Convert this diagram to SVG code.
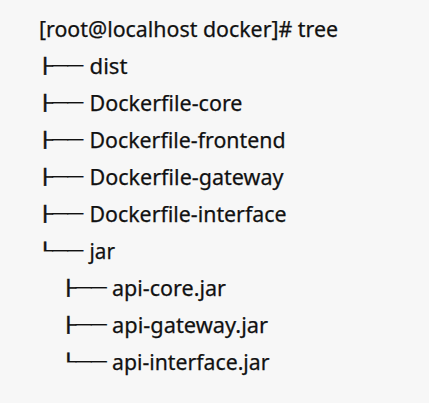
<svg xmlns="http://www.w3.org/2000/svg" width="429" height="403" viewBox="0 0 429 403">
<style>
.t{font-family:"Noto Sans","Liberation Sans",sans-serif;font-size:21.5px;fill:#111;stroke:#111;stroke-width:0.25px}
.b{font-family:"DejaVu Sans Mono",monospace;font-size:15px;fill:#111;stroke:#111;stroke-width:0.3px}
</style>
<rect width="429" height="403" fill="#f7f7f7"/>
<g id="root"><text class="t" x="39" y="36.5" textLength="299" lengthAdjust="spacingAndGlyphs">[root@localhost docker]# tree</text></g>
<g id="connectors">
<text class="b" x="37.4" y="70.7" textLength="45.6" lengthAdjust="spacingAndGlyphs">├──</text>
<text class="b" x="37.4" y="107.7" textLength="45.6" lengthAdjust="spacingAndGlyphs">├──</text>
<text class="b" x="37.4" y="144.7" textLength="45.6" lengthAdjust="spacingAndGlyphs">├──</text>
<text class="b" x="37.4" y="181.7" textLength="45.6" lengthAdjust="spacingAndGlyphs">├──</text>
<text class="b" x="37.4" y="218.7" textLength="45.6" lengthAdjust="spacingAndGlyphs">├──</text>
<text class="b" x="37.4" y="255.7" textLength="45.6" lengthAdjust="spacingAndGlyphs">└──</text>
<text class="b" x="60.8" y="292.7" textLength="45.6" lengthAdjust="spacingAndGlyphs">├──</text>
<text class="b" x="60.8" y="329.7" textLength="45.6" lengthAdjust="spacingAndGlyphs">├──</text>
<text class="b" x="60.8" y="366.7" textLength="45.6" lengthAdjust="spacingAndGlyphs">└──</text>
</g>
<g id="dist"><text class="t" x="89.5" y="73.5" textLength="38" lengthAdjust="spacingAndGlyphs">dist</text></g>
<g id="dockerfile-core"><text class="t" x="89.5" y="110.5" textLength="153" lengthAdjust="spacingAndGlyphs">Dockerfile-core</text></g>
<g id="dockerfile-frontend"><text class="t" x="89.5" y="147.5" textLength="196" lengthAdjust="spacingAndGlyphs">Dockerfile-frontend</text></g>
<g id="dockerfile-gateway"><text class="t" x="89.5" y="184.5" textLength="194" lengthAdjust="spacingAndGlyphs">Dockerfile-gateway</text></g>
<g id="dockerfile-interface"><text class="t" x="89.5" y="221.5" textLength="197" lengthAdjust="spacingAndGlyphs">Dockerfile-interface</text></g>
<g id="jar"><text class="t" x="89.5" y="258.5" textLength="25.5" lengthAdjust="spacingAndGlyphs">jar</text></g>
<g id="api-core"><text class="t" x="112" y="295.5" textLength="114" lengthAdjust="spacingAndGlyphs">api-core.jar</text></g>
<g id="api-gateway"><text class="t" x="112" y="332.5" textLength="156" lengthAdjust="spacingAndGlyphs">api-gateway.jar</text></g>
<g id="api-interface"><text class="t" x="112" y="369.5" textLength="157.5" lengthAdjust="spacingAndGlyphs">api-interface.jar</text></g>
</svg>
